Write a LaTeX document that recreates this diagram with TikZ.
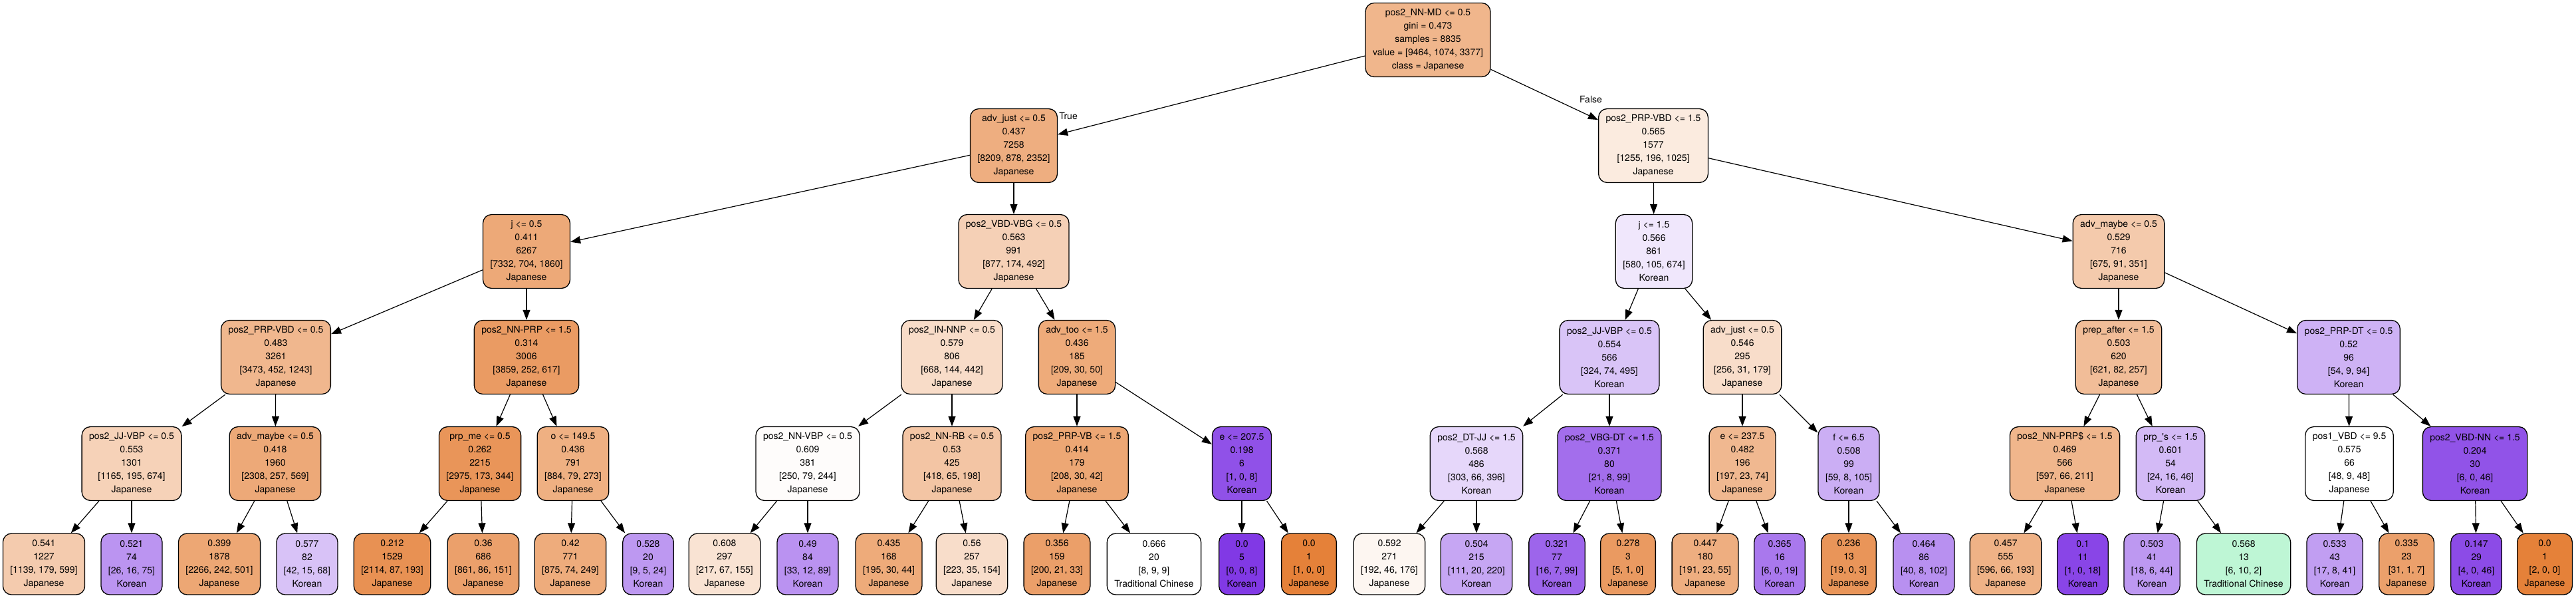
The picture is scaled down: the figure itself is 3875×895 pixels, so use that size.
\documentclass[tikz,border=0pt]{standalone}
\usepackage{fontspec}
\setmainfont{TeX Gyre Heros}[Ligatures=TeXOff]
\usetikzlibrary{arrows.meta}
\definecolor{jpc}{RGB}{229,129,57}
\definecolor{koc}{RGB}{129,57,229}
\definecolor{tcc}{RGB}{57,229,129}
\tikzset{
  box/.style={draw=black, line width=1.3pt, rounded corners=13pt, align=center,
    font=\fontsize{14}{20}\selectfont, inner xsep=11pt, inner ysep=2pt},
  split/.style={box, minimum height=111pt},
  leaf/.style={box, minimum height=92pt},
  J/.style={fill=jpc!#1!white},
  K/.style={fill=koc!#1!white},
  T/.style={fill=tcc!#1!white},
  link/.style={line width=1.2pt, -{Triangle[length=15pt,width=11pt]}},
  branch/.style={font=\fontsize{14}{16}\selectfont, inner sep=0pt}
}
\begin{document}
\begin{tikzpicture}[x=1pt,y=-1pt]
\useasboundingbox (0,0) rectangle (3875,895);
\fill[white] (0,0) rectangle (3875,895);
% level 0
\node[split,J=58] (n0) at (2148,60) {pos2\_NN-MD <= 0.5\\gini = 0.473\\samples = 8835\\value = [9464, 1074, 3377]\\class = Japanese};
% level 1
\node[split,J=64] (a1) at (1525,219) {adv\_just <= 0.5\\0.437\\7258\\{}[8209, 878, 2352]\\Japanese};
\node[split,J=16] (b1) at (2487,219) {pos2\_PRP-VBD <= 1.5\\0.565\\1577\\{}[1255, 196, 1025]\\Japanese};
% level 2
\node[split,J=68] (a2) at (792,378) {j <= 0.5\\0.411\\6267\\{}[7332, 704, 1860]\\Japanese};
\node[split,J=37] (b2) at (1525,378) {pos2\_VBD-VBG <= 0.5\\0.563\\991\\{}[877, 174, 492]\\Japanese};
\node[split,K=12] (c2) at (2488,378) {j <= 1.5\\0.566\\861\\{}[580, 105, 674]\\Korean};
\node[split,J=42] (d2) at (3187,378) {adv\_maybe <= 0.5\\0.529\\716\\{}[675, 91, 351]\\Japanese};
% level 3
\node[split,J=57] (p3) at (415,537) {pos2\_PRP-VBD <= 0.5\\0.483\\3261\\{}[3473, 452, 1243]\\Japanese};
\node[split,J=79] (q3) at (792,537) {pos2\_NN-PRP <= 1.5\\0.314\\3006\\{}[3859, 252, 617]\\Japanese};
\node[split,J=28] (r3) at (1432,537) {pos2\_IN-NNP <= 0.5\\0.579\\806\\{}[668, 144, 442]\\Japanese};
\node[split,J=67] (s3) at (1620,537) {adv\_too <= 1.5\\0.436\\185\\{}[209, 30, 50]\\Japanese};
\node[split,K=30] (t3) at (2421,537) {pos2\_JJ-VBP <= 0.5\\0.554\\566\\{}[324, 74, 495]\\Korean};
\node[split,J=27] (u3) at (2621,537) {adv\_just <= 0.5\\0.546\\295\\{}[256, 31, 179]\\Japanese};
\node[split,J=52] (v3) at (3187,537) {prep\_after <= 1.5\\0.503\\620\\{}[621, 82, 257]\\Japanese};
\node[split,K=39] (w3) at (3533,537) {pos2\_PRP-DT <= 0.5\\0.52\\96\\{}[54, 9, 94]\\Korean};
% level 4
\node[split,J=36] (m1) at (198,697) {pos2\_JJ-VBP <= 0.5\\0.553\\1301\\{}[1165, 195, 674]\\Japanese};
\node[split,J=68] (m2) at (414,697) {adv\_maybe <= 0.5\\0.418\\1960\\{}[2308, 257, 569]\\Japanese};
\node[split,J=84] (m3) at (722,697) {prp\_me <= 0.5\\0.262\\2215\\{}[2975, 173, 344]\\Japanese};
\node[split,J=63] (m4) at (862,697) {o <= 149.5\\0.436\\791\\{}[884, 79, 273]\\Japanese};
\node[split,J=2] (m5) at (1215,697) {pos2\_NN-VBP <= 0.5\\0.609\\381\\{}[250, 79, 244]\\Japanese};
\node[split,J=46] (m6) at (1432,697) {pos2\_NN-RB <= 0.5\\0.53\\425\\{}[418, 65, 198]\\Japanese};
\node[split,J=70] (m7) at (1620,697) {pos2\_PRP-VB <= 1.5\\0.414\\179\\{}[208, 30, 42]\\Japanese};
\node[split,K=88] (m8) at (1868,697) {e <= 207.5\\0.198\\6\\{}[1, 0, 8]\\Korean};
\node[split,K=20] (m9) at (2221,697) {pos2\_DT-JJ <= 1.5\\0.568\\486\\{}[303, 66, 396]\\Korean};
\node[split,K=73] (m10) at (2421,697) {pos2\_VBG-DT <= 1.5\\0.371\\80\\{}[21, 8, 99]\\Korean};
\node[split,J=56] (m11) at (2621,697) {e <= 237.5\\0.482\\196\\{}[197, 23, 74]\\Japanese};
\node[split,K=41] (m12) at (2781,697) {f <= 6.5\\0.508\\99\\{}[59, 8, 105]\\Korean};
\node[split,J=58] (m13) at (3106,697) {pos2\_NN-PRP\$ <= 1.5\\0.469\\566\\{}[597, 66, 211]\\Japanese};
\node[split,K=35] (m14) at (3265,697) {prp\_'s <= 1.5\\0.601\\54\\{}[24, 16, 46]\\Korean};
\node[split,J=0] (m15) at (3534,697) {pos1\_VBD <= 9.5\\0.575\\66\\{}[48, 9, 48]\\Japanese};
\node[split,K=87] (m16) at (3723,697) {pos2\_VBD-NN <= 1.5\\0.204\\30\\{}[6, 0, 46]\\Korean};
% level 5 (leaves)
\node[leaf,J=41] (l1) at (66,848) {0.541\\1227\\{}[1139, 179, 599]\\Japanese};
\node[leaf,K=54] (l2) at (198,848) {0.521\\74\\{}[26, 16, 75]\\Korean};
\node[leaf,J=70] (l3) at (330,848) {0.399\\1878\\{}[2266, 242, 501]\\Japanese};
\node[leaf,K=31] (l4) at (462,848) {0.577\\82\\{}[42, 15, 68]\\Korean};
\node[leaf,J=87] (l5) at (590,848) {0.212\\1529\\{}[2114, 87, 193]\\Japanese};
\node[leaf,J=75] (l6) at (727,848) {0.36\\686\\{}[861, 86, 151]\\Japanese};
\node[leaf,J=66] (l7) at (858,848) {0.42\\771\\{}[875, 74, 249]\\Japanese};
\node[leaf,K=52] (l8) at (975,848) {0.528\\20\\{}[9, 5, 24]\\Korean};
\node[leaf,J=22] (l9) at (1090,848) {0.608\\297\\{}[217, 67, 155]\\Japanese};
\node[leaf,K=55] (l10) at (1215,848) {0.49\\84\\{}[33, 12, 89]\\Korean};
\node[leaf,J=67] (l11) at (1337,848) {0.435\\168\\{}[195, 30, 44]\\Japanese};
\node[leaf,J=27] (l12) at (1462,848) {0.56\\257\\{}[223, 35, 154]\\Japanese};
\node[leaf,J=76] (l13) at (1590,848) {0.356\\159\\{}[200, 21, 33]\\Japanese};
\node[leaf,T=0] (l14) at (1736,848) {0.666\\20\\{}[8, 9, 9]\\Traditional Chinese};
\node[leaf,K=100] (l15) at (1868,848) {0.0\\5\\{}[0, 0, 8]\\Korean};
\node[leaf,J=100] (l16) at (1969,848) {0.0\\1\\{}[1, 0, 0]\\Japanese};
\node[leaf,J=7] (l17) at (2090,848) {0.592\\271\\{}[192, 46, 176]\\Japanese};
\node[leaf,K=45] (l18) at (2221,848) {0.504\\215\\{}[111, 20, 220]\\Korean};
\node[leaf,K=78] (l19) at (2342,848) {0.321\\77\\{}[16, 7, 99]\\Korean};
\node[leaf,J=80] (l20) at (2449,848) {0.278\\3\\{}[5, 1, 0]\\Japanese};
\node[leaf,J=64] (l21) at (2565,848) {0.447\\180\\{}[191, 23, 55]\\Japanese};
\node[leaf,K=68] (l22) at (2677,848) {0.365\\16\\{}[6, 0, 19]\\Korean};
\node[leaf,J=84] (l23) at (2781,848) {0.236\\13\\{}[19, 0, 3]\\Japanese};
\node[leaf,K=56] (l24) at (2894,848) {0.464\\86\\{}[40, 8, 102]\\Korean};
\node[leaf,J=61] (l25) at (3017,848) {0.457\\555\\{}[596, 66, 193]\\Japanese};
\node[leaf,K=94] (l26) at (3133,848) {0.1\\11\\{}[1, 0, 18]\\Korean};
\node[leaf,K=52] (l27) at (3237,848) {0.503\\41\\{}[18, 6, 44]\\Korean};
\node[leaf,T=33] (l28) at (3375,848) {0.568\\13\\{}[6, 10, 2]\\Traditional Chinese};
\node[leaf,K=49] (l29) at (3512,848) {0.533\\43\\{}[17, 8, 41]\\Korean};
\node[leaf,J=75] (l30) at (3620,848) {0.335\\23\\{}[31, 1, 7]\\Japanese};
\node[leaf,K=91] (l31) at (3725,848) {0.147\\29\\{}[4, 0, 46]\\Korean};
\node[leaf,J=100] (l32) at (3828,848) {0.0\\1\\{}[2, 0, 0]\\Japanese};
% connectors
\draw[link] (n0) -- (a1);
\draw[link] (n0) -- (b1);
\draw[link] (a1) -- (a2);
\draw[link] (a1) -- (b2);
\draw[link] (b1) -- (c2);
\draw[link] (b1) -- (d2);
\draw[link] (a2) -- (p3);
\draw[link] (a2) -- (q3);
\draw[link] (b2) -- (r3);
\draw[link] (b2) -- (s3);
\draw[link] (c2) -- (t3);
\draw[link] (c2) -- (u3);
\draw[link] (d2) -- (v3);
\draw[link] (d2) -- (w3);
\draw[link] (p3) -- (m1);
\draw[link] (p3) -- (m2);
\draw[link] (q3) -- (m3);
\draw[link] (q3) -- (m4);
\draw[link] (r3) -- (m5);
\draw[link] (r3) -- (m6);
\draw[link] (s3) -- (m7);
\draw[link] (s3) -- (m8);
\draw[link] (t3) -- (m9);
\draw[link] (t3) -- (m10);
\draw[link] (u3) -- (m11);
\draw[link] (u3) -- (m12);
\draw[link] (v3) -- (m13);
\draw[link] (v3) -- (m14);
\draw[link] (w3) -- (m15);
\draw[link] (w3) -- (m16);
\draw[link] (m1) -- (l1);
\draw[link] (m1) -- (l2);
\draw[link] (m2) -- (l3);
\draw[link] (m2) -- (l4);
\draw[link] (m3) -- (l5);
\draw[link] (m3) -- (l6);
\draw[link] (m4) -- (l7);
\draw[link] (m4) -- (l8);
\draw[link] (m5) -- (l9);
\draw[link] (m5) -- (l10);
\draw[link] (m6) -- (l11);
\draw[link] (m6) -- (l12);
\draw[link] (m7) -- (l13);
\draw[link] (m7) -- (l14);
\draw[link] (m8) -- (l15);
\draw[link] (m8) -- (l16);
\draw[link] (m9) -- (l17);
\draw[link] (m9) -- (l18);
\draw[link] (m10) -- (l19);
\draw[link] (m10) -- (l20);
\draw[link] (m11) -- (l21);
\draw[link] (m11) -- (l22);
\draw[link] (m12) -- (l23);
\draw[link] (m12) -- (l24);
\draw[link] (m13) -- (l25);
\draw[link] (m13) -- (l26);
\draw[link] (m14) -- (l27);
\draw[link] (m14) -- (l28);
\draw[link] (m15) -- (l29);
\draw[link] (m15) -- (l30);
\draw[link] (m16) -- (l31);
\draw[link] (m16) -- (l32);
% branch labels
\node[branch] (tlab) at (1607,174) {True};
\node[branch] (flab) at (2393,149) {False};
\end{tikzpicture}
\end{document}
